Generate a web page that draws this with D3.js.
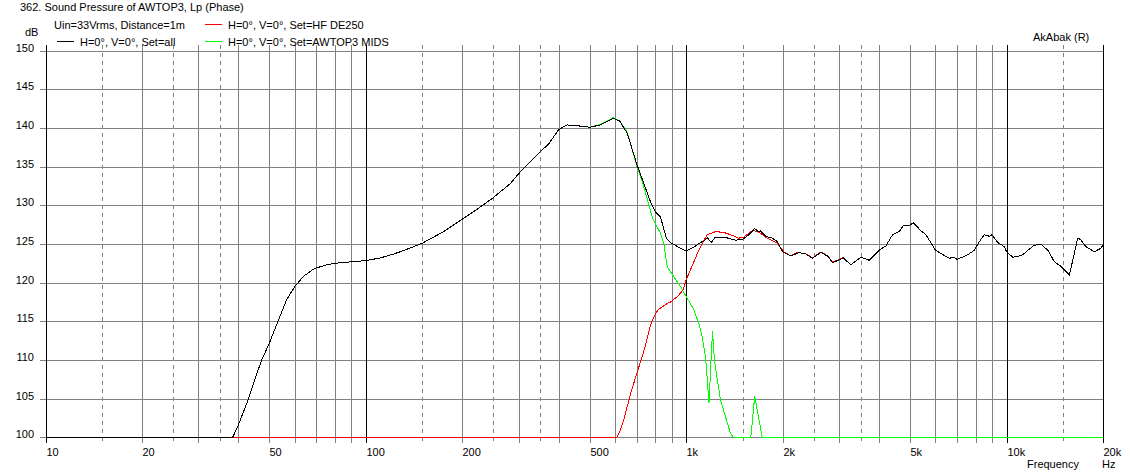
<!DOCTYPE html>
<html><head><meta charset="utf-8">
<script src="https://cdn.jsdelivr.net/npm/d3@7"></script>
<style>
html,body{margin:0;padding:0;background:#fff;}
svg text{font-family:"Liberation Sans",Arial,sans-serif;font-size:11px;fill:#000;}
</style></head>
<body>
<svg id="c" width="1130" height="475"></svg>
<script>
// ---- data ----
const blackFreq = [10,38.4,40,42.5,44.6,47.3,50,53.4,56.6,60,63.8,67.8,70,75.5,80,90,100,111,122,128,134,150,175,200,227,250,283,300,334,350,373,400,425,456,500,540,592,620,655,700,737,773,800,831,868,900,960,1000,1057,1109,1137,1165,1197,1233,1309,1428,1500,1570,1636,1677,1706,1770,1857,1925,2000,2121,2252,2362,2478,2630,2761,2864,2968,3091,3266,3510,3726,4004,4200,4408,4621,4771,5000,5118,5408,5603,6000,6620,6867,7000,7566,7929,8223,8522,8834,9000,9378,9842,10000,10450,10840,11235,11650,12220,12820,13450,14100,14800,15710,16680,17000,17700,18800,19700,20000];
const blackDb = [100,100,101.6,104.4,107.0,110.0,112.2,115.2,117.8,119.5,120.8,121.6,121.9,122.3,122.5,122.7,122.85,123.2,123.7,124.0,124.3,125.1,126.6,128.2,129.75,131.0,132.85,134.1,136.1,136.9,138.0,139.8,140.4,140.3,140.1,140.4,141.25,140.9,139.3,135.4,132.85,130.5,129.2,128.5,125.7,125.1,124.45,124.1,124.6,125.2,125.4,125.8,125.2,125.9,125.9,125.5,125.6,126.2,127.0,126.6,126.7,126.0,125.75,125.3,124.0,123.45,123.9,123.7,123.15,123.9,123.45,122.6,122.85,123.2,122.3,123.3,122.9,124.2,124.75,126.2,126.6,127.45,127.45,127.75,126.7,126.2,124.2,123.15,123.3,123.0,123.6,124.2,125.3,126.2,126.0,126.2,125.2,124.65,124.0,123.3,123.4,123.6,124.2,124.85,124.95,124.2,122.7,122.1,121.0,125.75,125.6,124.65,124.0,124.45,124.9];

const redFreq = [10,608,624,638,671,686,737,777,800,820,872,893,939,978,1000,1057,1084,1137,1163,1235,1309,1377,1458,1514,1615,1706,1791,1925,2018,2118,2224,2362,2478,2630,2761,2864,2968,3091];
const redDb = [100,100,101.0,102.2,105.7,107.0,111.1,114.75,115.9,116.55,117.3,117.5,118.2,119.05,120.4,122.7,123.8,125.5,126.2,126.6,126.5,126.2,125.75,125.9,126.8,126.4,125.75,125.1,124.0,123.45,123.9,123.75,123.2,123.95,123.5,122.65,122.9,123.25];

const greenFreq = [500,540,592,620,655,700,729,755,783,800,831,851,872,900,960,1000,1057,1094,1122,1149,1178,1208,1225,1250,1280,1375,1403,1591,1636,1727,20000];
const greenDb = [140.15,140.45,141.35,140.95,139.4,135.2,133.05,130.9,128.5,127.7,126.4,125.1,122.1,121.2,119.5,118.2,116.5,114.75,113.0,110.4,104.5,113.8,110.0,107.5,104.8,100.5,100,100,105.3,100,100];

const yTicks = [100,105,110,115,120,125,130,135,140,145,150];
const xTickValues = [10,20,50,100,200,500,1000,2000,5000,10000,20000];
const xTickLabels = ["10","20","50","100","200","500","1k","2k","5k","10k","20k"];
const gridSolid = [20,30,40,50,60,70,80,90,200,300,400,500,600,700,800,900,2000,3000,4000,5000,6000,7000,8000,9000];
const gridDashed = [15,25,35,150,250,350,1500,2500,3500,15000];
const gridMajor = [10,100,1000,10000,20000];

const title = "362. Sound Pressure of AWTOP3, Lp (Phase)";
const subTitle = "Uin=33Vrms, Distance=1m";
const legendItems = [
  {label:"H=0°, V=0°, Set=all", color:"#000000"},
  {label:"H=0°, V=0°, Set=HF DE250", color:"#ff0000"},
  {label:"H=0°, V=0°, Set=AWTOP3 MIDS", color:"#00ff00"}
];

// ---- drawing ----
const svg = d3.select("#c");
const x = d3.scaleLog().domain([10,20000]).range([45.5,1103]);
const y = d3.scaleLinear().domain([100,150]).range([437.3,50.7]);
const px = v => Math.round(x(v)) + 0.5;
const py = v => Math.round(y(v)) + 0.5;
const grey = "#808080";

const g = svg.append("g");
// horizontal grid
g.selectAll("line.h").data(yTicks).join("line")
  .attr("x1",40).attr("x2",1103.5)
  .attr("y1",d=>py(d)).attr("y2",d=>py(d))
  .attr("stroke",grey).attr("stroke-width",1).attr("shape-rendering","crispEdges");
// vertical grids
g.selectAll("line.vs").data(gridSolid).join("line")
  .attr("x1",d=>px(d)).attr("x2",d=>px(d)).attr("y1",45).attr("y2",443)
  .attr("stroke",grey).attr("shape-rendering","crispEdges");
g.selectAll("line.vd").data(gridDashed).join("line")
  .attr("x1",d=>px(d)).attr("x2",d=>px(d)).attr("y1",45).attr("y2",443)
  .attr("stroke",grey).attr("stroke-dasharray","4,4").attr("shape-rendering","crispEdges");
g.selectAll("line.vm").data(gridMajor).join("line")
  .attr("x1",d=>px(d)).attr("x2",d=>px(d)).attr("y1",45).attr("y2",443)
  .attr("stroke","#000").attr("shape-rendering","crispEdges");

// y labels
svg.selectAll("text.yl").data(yTicks).join("text")
  .attr("x",34).attr("y",d=>py(d)).attr("text-anchor","end").text(d=>d);
// x labels
svg.selectAll("text.xl").data(xTickValues).join("text")
  .attr("x",d=>px(d)).attr("y",456).text((d,i)=>xTickLabels[i]);

svg.append("text").attr("x",1027).attr("y",468).text("Frequency");
svg.append("text").attr("x",1102).attr("y",468).text("Hz");
svg.append("text").attr("x",25).attr("y",36).text("dB");
svg.append("text").attr("x",20).attr("y",11).text(title);
svg.append("text").attr("x",54).attr("y",29).text(subTitle);
svg.append("text").attr("x",1033).attr("y",41).text("AkAbak (R)");

// legend
const legPos = [{lx:57,tx:80,y:41.5},{lx:205,tx:228,y:24.5},{lx:205,tx:228,y:41.5}];
legendItems.forEach((it,i)=>{
  const p = legPos[i];
  svg.append("line").attr("x1",p.lx).attr("x2",p.lx+17).attr("y1",p.y).attr("y2",p.y)
    .attr("stroke",it.color).attr("shape-rendering","crispEdges");
  svg.append("text").attr("x",p.tx).attr("y",p.y+4).text(it.label);
});

// curves
const line = d3.line().x(d=>x(d[0])).y(d=>y(d[1]));
const series = [
  {f:greenFreq, v:greenDb, c:"#00ff00"},
  {f:redFreq, v:redDb, c:"#ff0000"},
  {f:blackFreq, v:blackDb, c:"#000000"}
];
series.forEach(s=>{
  svg.append("path").datum(s.f.map((f,i)=>[f,s.v[i]]))
    .attr("d",line).attr("fill","none").attr("stroke",s.c).attr("stroke-width",1)
    .attr("shape-rendering","crispEdges");
});
</script>
</body></html>
